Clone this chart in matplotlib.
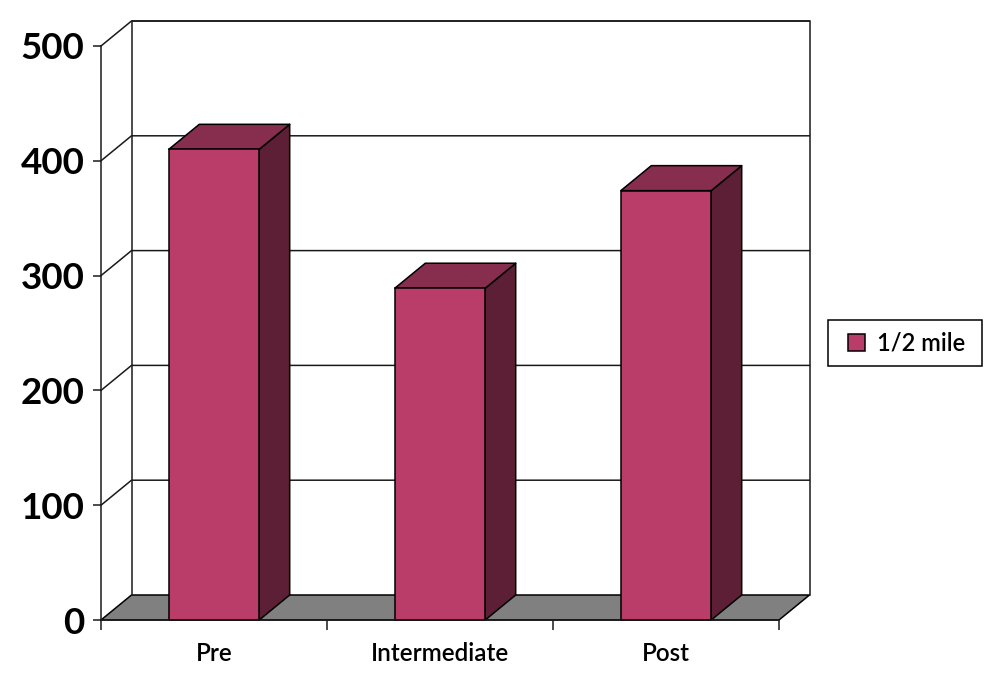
import matplotlib
matplotlib.use('Agg')
import matplotlib.pyplot as plt
from matplotlib.patches import Patch, Polygon, Rectangle

plt.rcParams['font.family'] = ['Lato', 'DejaVu Sans']

# Data
categories = ['Pre', 'Intermediate', 'Post']
values = [410, 289, 374]
y_ticks = [0, 100, 200, 300, 400, 500]
series_name = '1/2 mile'

# Colours
front = '#BA3D69'
top = '#872D4E'
side = '#5C1F35'
floor = '#808080'
line = '#1a1a1a'

W, H = 1000, 683
fig = plt.figure(figsize=(W / 100, H / 100), dpi=100)
ax = fig.add_axes([101 / W, 1 - 620 / H, 678 / W, 574 / H])
ax.set_xlim(0, 3)
ax.set_ylim(0, 500)
ax.patch.set_alpha(0)

# depth of the fake 3d box, in data units
dx = 30.5 / 226
dy = 25 * 500 / 574
bar_w = 0.4
lw = 1.1


def poly(pts, color, z):
    ax.add_patch(Polygon(pts, closed=True, facecolor=color, edgecolor='black',
                         linewidth=lw, clip_on=False, zorder=z, joinstyle='round'))


# Floor and back wall
poly([(0, 0), (3, 0), (3 + dx, dy), (dx, dy)], floor, 1)
ax.plot([dx, dx, 3 + dx, 3 + dx], [dy, 500 + dy, 500 + dy, dy], color=line, lw=lw,
        clip_on=False, zorder=1)
for t in y_ticks[1:]:
    ax.plot([0, dx, 3 + dx], [t, t + dy, t + dy], color=line, lw=lw, clip_on=False, zorder=1)

# Bars
x = [i + 0.5 for i in range(len(categories))]
bars = ax.bar(x, values, width=bar_w, color=front, edgecolor='black', linewidth=lw, zorder=3,
              clip_on=False)
for b in bars:
    l, r, h = b.get_x(), b.get_x() + b.get_width(), b.get_height()
    poly([(r, 0), (r + dx, dy), (r + dx, h + dy), (r, h)], side, 2)
    poly([(l, h), (r, h), (r + dx, h + dy), (l + dx, h + dy)], top, 2)

# Axes
for s in ['top', 'right']:
    ax.spines[s].set_visible(False)
for s in ['left', 'bottom']:
    ax.spines[s].set_linewidth(lw)
    ax.spines[s].set_color(line)
    ax.spines[s].set_zorder(4)

ax.set_yticks(y_ticks)
ax.set_yticklabels([str(t) for t in y_ticks], fontsize=26.5, fontweight='bold', color='black')
ax.tick_params(axis='y', length=6, width=lw, pad=6, color=line)
ax.set_xticks([0, 1, 2, 3])
ax.set_xticklabels([])
ax.tick_params(axis='x', which='major', length=7.5, width=lw, color=line)
ax.set_xticks(x, minor=True)
ax.set_xticklabels(categories, minor=True, fontsize=17.5, fontweight='semibold', color='black')
ax.tick_params(axis='x', which='minor', length=0, pad=16)

# Legend, box drawn separately because its shape is wider than the legend padding gives
fig.add_artist(Rectangle((828 / W, 1 - 366 / H), 154 / W, 46 / H, transform=fig.transFigure,
                         facecolor='white', edgecolor='black', linewidth=lw))
handle = Patch(facecolor=front, edgecolor='black', linewidth=lw)
leg = fig.legend([handle], [series_name], loc='center', bbox_to_anchor=(906.5 / W, 1 - 343 / H),
                 fontsize=17, frameon=False, handlelength=0.75, handleheight=0.75,
                 handletextpad=0.5, borderpad=0, borderaxespad=0)
for txt in leg.get_texts():
    txt.set_fontweight('semibold')

fig.savefig('out.png', dpi=100)
